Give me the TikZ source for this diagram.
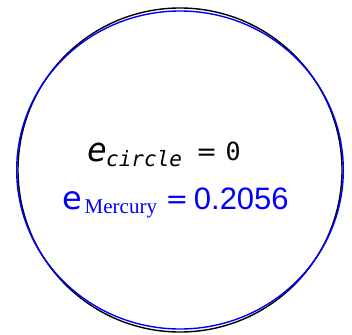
\documentclass[tikz,border=0pt]{standalone}
\usepackage{fontspec}
\newfontfamily\monofam{DejaVu Sans Mono}
\newfontfamily\dvsans{DejaVu Sans}
\newfontfamily\sansfam{Liberation Sans}
\newfontfamily\seriffam{Liberation Serif}
\definecolor{orbitblue}{RGB}{0,0,255}
\begin{document}
\begin{tikzpicture}[x=1pt,y=-1pt,
  orbit/.style={line width=1.4pt},
  lbl/.style={inner sep=0pt,anchor=base west}]
\useasboundingbox (0,0) rectangle (352,334);
\fill[white] (0,0) rectangle (352,334);
\coordinate (c) at (180,170);
\draw[black,orbit] (c) circle [radius=162];
\draw[orbitblue,orbit] (c) ellipse [x radius=163.3, y radius=159];
% black label
\node[lbl] (e1) at (87,161) {\fontsize{33}{33}\selectfont\monofam\itshape e};
\node[lbl] (s1) at (106,166) {\fontsize{21}{21}\selectfont\monofam\itshape circle};
\node[lbl] (q1) at (196,160) {\fontsize{25}{25}\selectfont\dvsans =};
\node[lbl] (z1) at (225.5,160) {\fontsize{25}{25}\selectfont\monofam 0};
% blue label
\node[lbl,text=orbitblue] (e2) at (62.5,209.5) {\fontsize{32}{32}\selectfont\dvsans e};
\node[lbl,text=orbitblue] (s2) at (84.5,213) {\fontsize{21}{21}\selectfont\seriffam Mercury};
\node[lbl,text=orbitblue] (q2) at (165.5,208) {\fontsize{27}{27}\selectfont\dvsans =};
\node[lbl,text=orbitblue] (v2) at (193.7,209) {\fontsize{31}{31}\selectfont\sansfam 0.2056};
\end{tikzpicture}
\end{document}
